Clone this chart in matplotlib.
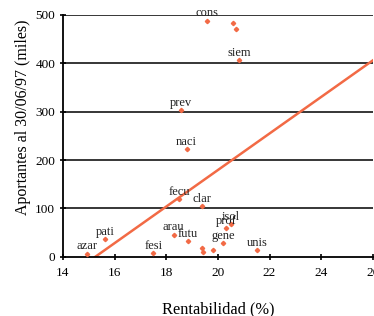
import matplotlib.pyplot as plt

# fund names ("" = unlabeled point)
names = ["cons", "", "", "siem", "prev", "naci", "fecu", "clar", "isol", "prof",
         "arau", "futu", "gene", "pati", "azar", "fesi", "unis", "", "", ""]
rentabilidad = [19.57, 20.6, 20.7, 20.82, 18.57, 18.79, 18.51, 19.39, 20.49, 20.33,
                18.29, 18.83, 20.2, 15.64, 14.94, 17.5, 21.52, 19.39, 19.41, 19.8]
aportantes = [488, 484, 471, 406, 304, 222, 120, 105, 68, 60,
              46, 32, 29, 36, 7, 8, 14, 19, 10, 15]

# regression line
fit_x = [15.25, 26.0]
fit_y = [0, 406]

x_ticks = [14, 16, 18, 20, 22, 24, 26]
y_ticks = [0, 100, 200, 300, 400, 500]

plt.rcParams['font.family'] = ['Liberation Serif', 'DejaVu Serif']
orange = "#f26a45"

fig = plt.figure(figsize=(3.74, 3.16), dpi=100)
ax = fig.add_axes([0.168, 0.187, 0.829, 0.766])

for y in y_ticks[1:]:
    ax.axhline(y, color="black", linewidth=1.1, zorder=1)

ax.plot(fit_x, fit_y, color=orange, linewidth=1.8, zorder=2)
ax.plot(rentabilidad, aportantes, linestyle="none", marker="D", markersize=2.2,
        color=orange, zorder=3)

for name, x, y in zip(names, rentabilidad, aportantes):
    if name:
        ax.annotate(name, (x, y), xytext=(0, 3), textcoords="offset points",
                    ha="center", va="baseline", fontsize=9, color="#222222",
                    annotation_clip=False)

ax.set_xlim(14, 26)
ax.set_ylim(0, 500)
ax.set_xticks(x_ticks)
ax.set_yticks(y_ticks)
ax.tick_params(direction="inout", length=5, width=1.2, labelsize=9.5, pad=3)
ax.tick_params(axis="x", pad=5)
for side in ["top", "right"]:
    ax.spines[side].set_visible(False)
for side in ["left", "bottom"]:
    ax.spines[side].set_linewidth(1.3)

fig.text(218 / 374, 1 - 309 / 316, "Rentabilidad (%)", fontsize=11.8,
         ha="center", va="center")
fig.text(23 / 374, 1 - 117 / 316, "Aportantes al 30/06/97 (miles)", fontsize=11.5,
         rotation=90, ha="center", va="center")

plt.savefig("out.png", dpi=100)
